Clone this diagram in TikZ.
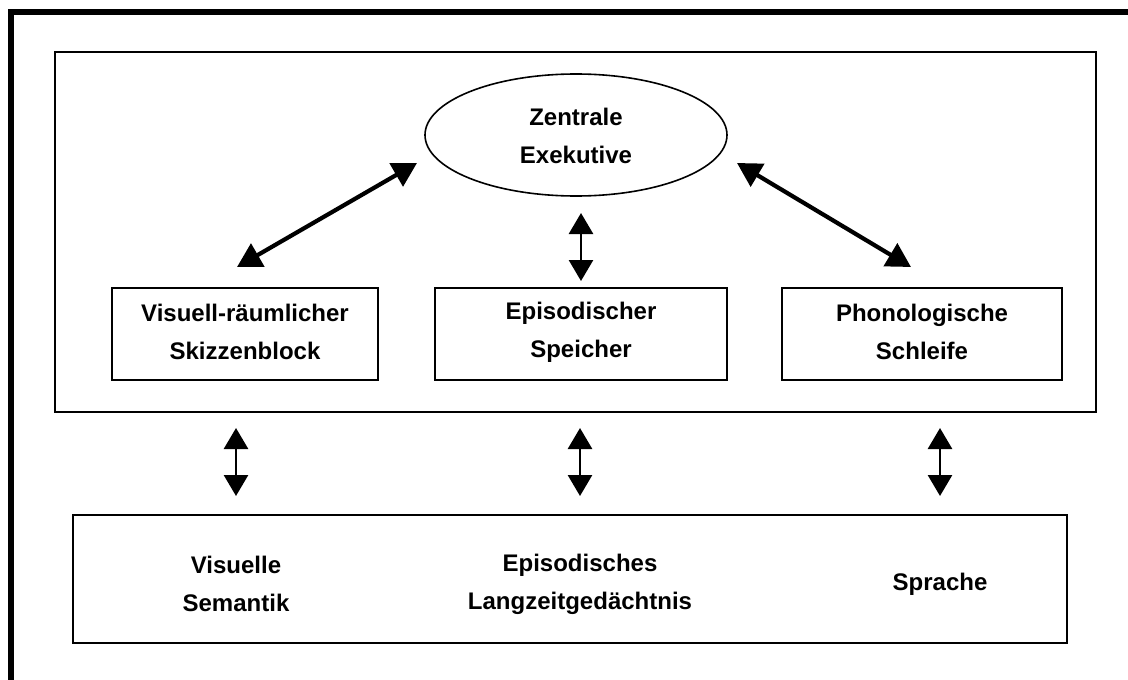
\documentclass[tikz,border=0pt]{standalone}
\usepackage{fontspec}
\setmainfont{Liberation Sans}
\usetikzlibrary{arrows.meta,shapes.geometric}
\begin{document}
\begin{tikzpicture}[x=1pt,y=-1pt,
  txt/.style={font=\bfseries\fontsize{24}{38}\selectfont, align=center, inner sep=0pt},
  box/.style={draw, line width=1.6pt, inner sep=0pt},
  dbl/.style={{Triangle[width=26pt,length=24pt]}-{Triangle[width=26pt,length=24pt]}, line width=4.2pt},
  vdbl/.style={{Triangle[width=24pt,length=21pt]}-{Triangle[width=24pt,length=21pt]}, line width=2.8pt}]
\useasboundingbox (0,0) rectangle (1128,680);
\draw[line width=6pt] (11,680) -- (11,12) -- (1128,12);
% inner frame
\node[box, minimum width=1041pt, minimum height=360pt] (wm) at (575.5,232) {};
% ellipse
\node[draw, ellipse, line width=1.6pt, minimum width=302pt, minimum height=122pt, inner sep=0pt] (ze) at (576,135) {};
\node[txt] (zet) at (576,136) {Zentrale\\Exekutive};
% boxes
\node[box, minimum width=266pt, minimum height=92pt] (vr) at (245,334) {};
\node[txt] (vrt) at (245,332) {Visuell-räumlicher\\Skizzenblock};
\node[box, minimum width=292pt, minimum height=92pt] (ep) at (581,334) {};
\node[txt] (ept) at (581,332) {Episodischer\\Speicher};
\node[box, minimum width=280pt, minimum height=92pt] (ph) at (922,334) {};
\node[txt] (pht) at (922,332) {Phonologische\\Schleife};
% bottom box
\node[box, minimum width=994pt, minimum height=128pt] (lz) at (570,579) {};
\node[txt] (vs) at (236,584) {Visuelle\\Semantik};
\node[txt] (el) at (580,584) {Episodisches\\Langzeitgedächtnis};
\node[txt] (sp) at (940,584) {Sprache};
% arrow ends
\coordinate (a1) at (237,267); \coordinate (a2) at (417,163);
\coordinate (b1) at (737,163); \coordinate (b2) at (911,267);
\coordinate (c1) at (581,213); \coordinate (c2) at (581,281);
\coordinate (d1) at (236,428); \coordinate (d2) at (236,496);
\coordinate (e1) at (580,428); \coordinate (e2) at (580,496);
\coordinate (f1) at (940,428); \coordinate (f2) at (940,496);
\draw[dbl] (a1) -- (a2);
\draw[dbl] (b1) -- (b2);
\draw[vdbl] (c1) -- (c2);
\draw[vdbl] (d1) -- (d2);
\draw[vdbl] (e1) -- (e2);
\draw[vdbl] (f1) -- (f2);
\end{tikzpicture}
\end{document}
